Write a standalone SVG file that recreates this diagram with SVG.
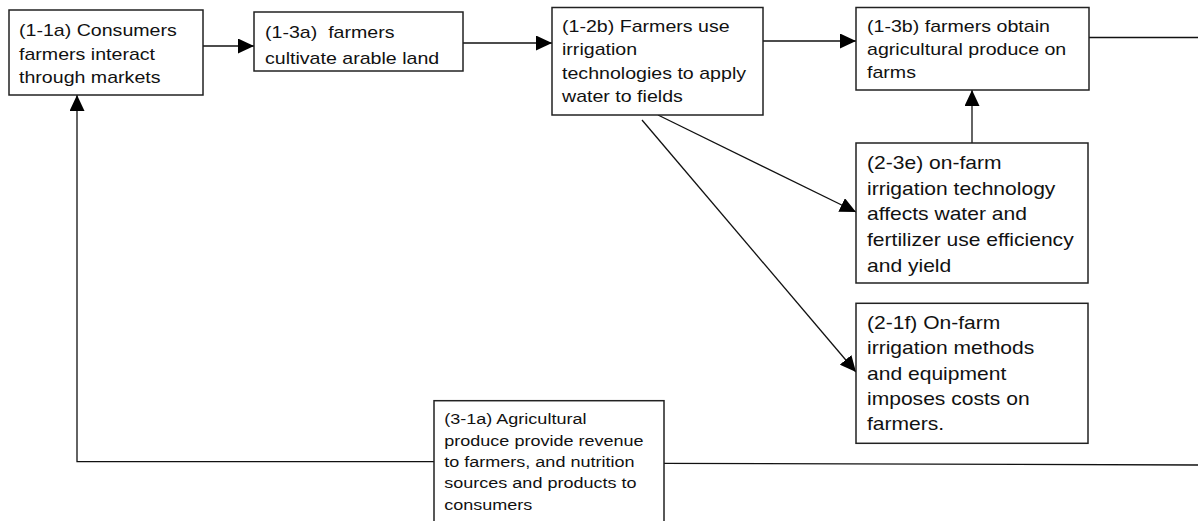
<svg xmlns="http://www.w3.org/2000/svg" width="1198" height="521" viewBox="0 0 1198 521">
<defs>
<marker id="ah" markerUnits="userSpaceOnUse" markerWidth="16" markerHeight="15" refX="16" refY="7.5" orient="auto">
<path d="M0,0 L16,7.5 L0,15 z" fill="#000"/>
</marker>
<style>
.box{fill:#fff;stroke:#222;stroke-width:1.5}
.c{fill:none;stroke:#111;stroke-width:1.3}
.t{font-family:"Liberation Sans",Arial,Helvetica,sans-serif;fill:#111}
.s1{font-size:16.75px}
.s2{font-size:18px}
.s3{font-size:15.4px}
</style>
</defs>
<rect width="1198" height="521" fill="#fff"/>
<g id="connectors">
<line class="c" x1="203" y1="46" x2="254" y2="46" marker-end="url(#ah)"/>
<line class="c" x1="463" y1="43" x2="552" y2="43" marker-end="url(#ah)"/>
<line class="c" x1="763" y1="41" x2="856" y2="41" marker-end="url(#ah)"/>
<line class="c" x1="1089" y1="37.5" x2="1198" y2="37.5"/>
<line class="c" x1="972" y1="143" x2="972" y2="90" marker-end="url(#ah)"/>
<line class="c" x1="658" y1="115" x2="856" y2="212" marker-end="url(#ah)"/>
<line class="c" x1="642" y1="120" x2="856" y2="372" marker-end="url(#ah)"/>
<path class="c" d="M1198,465 L664,463.3"/>
<path class="c" d="M434,461.7 L77,461.7 L77,95" marker-end="url(#ah)"/>
</g>
<g id="n11a">
<rect class="box" x="9" y="10" width="194" height="85"/>
<text class="t s1" transform="translate(19,36) scale(1.17,1)"><tspan x="0" y="0">(1-1a) Consumers</tspan><tspan x="0" y="24">farmers interact</tspan><tspan x="0" y="47">through markets</tspan></text>
</g>
<g id="n13a">
<rect class="box" x="254" y="12" width="209" height="59"/>
<text class="t s1" transform="translate(265,38) scale(1.17,1)"><tspan x="0" y="0">(1-3a)&#160; farmers</tspan><tspan x="0" y="26">cultivate arable land</tspan></text>
</g>
<g id="n12b">
<rect class="box" x="552" y="7.5" width="211" height="107.5"/>
<text class="t s1" transform="translate(562,32) scale(1.17,1)"><tspan x="0" y="0">(1-2b) Farmers use</tspan><tspan x="0" y="23.3">irrigation</tspan><tspan x="0" y="46.6">technologies to apply</tspan><tspan x="0" y="70">water to fields</tspan></text>
</g>
<g id="n13b">
<rect class="box" x="856" y="7.5" width="233" height="82.5"/>
<text class="t s1" transform="translate(867,31.7) scale(1.17,1)"><tspan x="0" y="0">(1-3b) farmers obtain</tspan><tspan x="0" y="23.3">agricultural produce on</tspan><tspan x="0" y="46.6">farms</tspan></text>
</g>
<g id="n23e">
<rect class="box" x="856" y="143" width="232" height="140"/>
<text class="t s2" transform="translate(867,169.3) scale(1.17,1)"><tspan x="0" y="0">(2-3e) on-farm</tspan><tspan x="0" y="25.6">irrigation technology</tspan><tspan x="0" y="51.2">affects water and</tspan><tspan x="0" y="76.8">fertilizer use efficiency</tspan><tspan x="0" y="102.4">and yield</tspan></text>
</g>
<g id="n21f">
<rect class="box" x="856" y="303.3" width="232" height="140"/>
<text class="t s2" transform="translate(867,329) scale(1.17,1)"><tspan x="0" y="0">(2-1f) On-farm</tspan><tspan x="0" y="25.3">irrigation methods</tspan><tspan x="0" y="50.6">and equipment</tspan><tspan x="0" y="75.9">imposes costs on</tspan><tspan x="0" y="101.2">farmers.</tspan></text>
</g>
<g id="n31a">
<rect class="box" x="434" y="400.7" width="230" height="130"/>
<text class="t s3" transform="translate(444.3,424.3) scale(1.17,1)"><tspan x="0" y="0">(3-1a) Agricultural</tspan><tspan x="0" y="21.4">produce provide revenue</tspan><tspan x="0" y="42.8">to farmers, and nutrition</tspan><tspan x="0" y="64.2">sources and products to</tspan><tspan x="0" y="85.6">consumers</tspan></text>
</g>
</svg>
